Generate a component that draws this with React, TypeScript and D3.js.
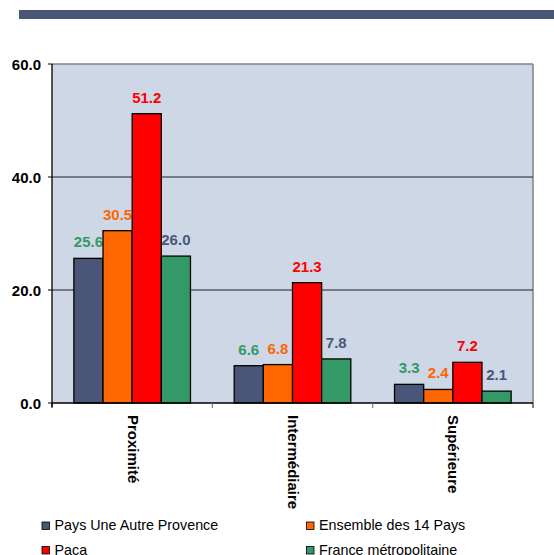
import React from "react";
import * as d3 from "d3";

const categories = ["Proximité", "Intermédiaire", "Supérieure"];
const seriesNames = ["Pays Une Autre Provence", "Ensemble des 14 Pays", "Paca", "France métropolitaine"];
const paysValues = [25.6, 6.6, 3.3];
const ensembleValues = [30.5, 6.8, 2.4];
const pacaValues = [51.2, 21.3, 7.2];
const franceValues = [26.0, 7.8, 2.1];
const yTicks = [0, 20, 40, 60];

const seriesValues = [paysValues, ensembleValues, pacaValues, franceValues];
const barColors = ["#4A5677", "#FF6600", "#FF0000", "#339966"];
const labelColors = ["#339966", "#FF6600", "#FF0000", "#4A5677"];

const W = 554;
const H = 555;
const left = 52;
const right = 533;
const top = 64;
const bottom = 403;
const FONT = "'Liberation Sans', Arial, sans-serif";

export default function App() {
  const x0 = d3.scaleBand<string>().domain(categories).range([left, right]).paddingInner(0).paddingOuter(0);
  const x1 = d3
    .scaleBand<string>()
    .domain(seriesNames)
    .range([0, x0.bandwidth()])
    .paddingInner(0)
    .paddingOuter(0.75);
  const y = d3.scaleLinear().domain([0, 60]).range([bottom, top]);

  const boundaries = [left, ...categories.map((c) => (x0(c) as number) + x0.bandwidth())];

  return (
    <svg width={W} height={H} style={{ position: "absolute", left: 0, top: 0, background: "#fff" }}>
      <rect x={19} y={10} width={W - 19} height={9} fill="#4A5677" />
      <rect x={left} y={top} width={right - left} height={bottom - top} fill="#CDD7E6" />
      {/* top & right border */}
      <line x1={left} x2={right} y1={top} y2={top} stroke="#808080" strokeWidth={1.5} />
      <line x1={right} x2={right} y1={top} y2={bottom} stroke="#808080" strokeWidth={1.5} />
      {/* gridlines */}
      {yTicks
        .filter((t) => t > 0 && t < 60)
        .map((t) => (
          <line key={"g" + t} x1={left} x2={right} y1={y(t)} y2={y(t)} stroke="#222" strokeWidth={1} />
        ))}
      {/* y ticks & labels */}
      {yTicks.map((t) => (
        <g key={"y" + t}>
          <line x1={left - 4} x2={left} y1={y(t)} y2={y(t)} stroke="#000" />
          <text
            x={41}
            y={y(t)}
            textAnchor="end"
            dominantBaseline="central"
            fontFamily={FONT}
            fontWeight="bold"
            fontSize={15}
            fill="#000"
          >
            {t.toFixed(1)}
          </text>
        </g>
      ))}
      {/* bars */}
      {categories.map((c, ci) =>
        seriesNames.map((s, si) => {
          const v = seriesValues[si][ci];
          const bx = (x0(c) as number) + (x1(s) as number);
          return (
            <g key={c + s}>
              <rect
                x={bx}
                y={y(v)}
                width={x1.bandwidth()}
                height={bottom - y(v)}
                fill={barColors[si]}
                stroke="#000"
                strokeWidth={1.3}
              />
              <text
                x={bx + x1.bandwidth() / 2}
                y={y(v) - 11}
                textAnchor="middle"
                fontFamily={FONT}
                fontWeight="bold"
                fontSize={15}
                fill={labelColors[si]}
              >
                {v.toFixed(1)}
              </text>
            </g>
          );
        })
      )}
      {/* axes */}
      <line x1={left} x2={left} y1={top} y2={bottom + 4} stroke="#000" strokeWidth={1.3} />
      <line x1={left} x2={right} y1={bottom} y2={bottom} stroke="#000" strokeWidth={1.5} />
      {boundaries.map((bx, i) => (
        <line
          key={"xt" + i}
          x1={bx}
          x2={bx}
          y1={bottom}
          y2={bottom + 5}
          stroke={i === 0 || i === boundaries.length - 1 ? "#000" : "#666"}
        />
      ))}
      {/* category labels */}
      {categories.map((c) => {
        const cx = (x0(c) as number) + x0.bandwidth() / 2 + 1;
        return (
          <text
            key={"c" + c}
            transform={`translate(${cx},415) rotate(90)`}
            textAnchor="start"
            dominantBaseline="central"
            fontFamily={FONT}
            fontWeight="bold"
            fontSize={15}
            fill="#000"
          >
            {c}
          </text>
        );
      })}
      {/* legend */}
      {seriesNames.map((s, i) => {
        const col = i % 2;
        const row = Math.floor(i / 2);
        const lx = col === 0 ? 42 : 306.5;
        const ly = row === 0 ? 522 : 546.5;
        return (
          <g key={"l" + s}>
            <rect x={lx} y={ly} width={7.5} height={7.5} fill={barColors[i]} stroke="#000" strokeWidth={0.8} />
            <text x={lx + 12.5} y={ly + 8} fontFamily={FONT} fontSize={14.3} fill="#000">
              {s}
            </text>
          </g>
        );
      })}
    </svg>
  );
}
